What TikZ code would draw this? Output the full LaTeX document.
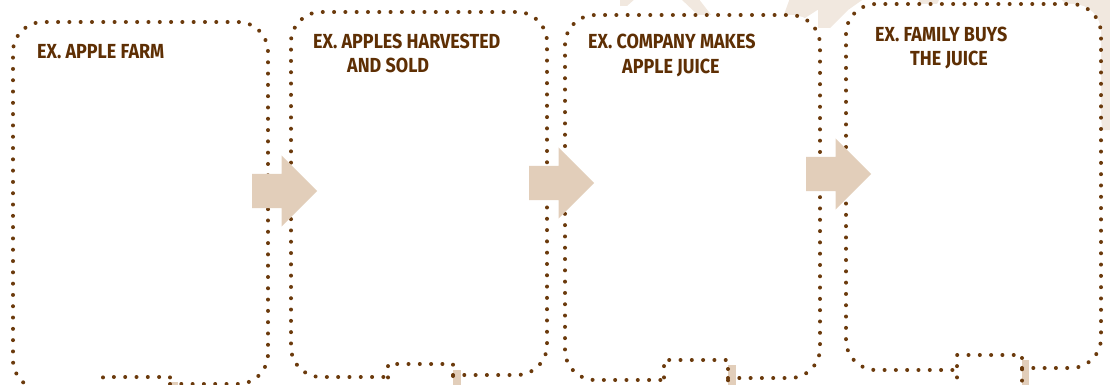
\documentclass[tikz,border=0pt]{standalone}
\usepackage{fontspec}
\newfontfamily\handfont{Fira Sans}
\usetikzlibrary{shapes.arrows}
\definecolor{dotbrown}{HTML}{6B3A0C}
\definecolor{inkbrown}{HTML}{5E2F04}
\definecolor{arrowtan}{HTML}{E2CEBA}
\definecolor{paletan}{HTML}{F1E8DF}
\begin{document}
\begin{tikzpicture}[x=1pt,y=-1pt,
  dotline/.style={draw=dotbrown, line width=4pt, line cap=round, dash pattern=on 0pt off 11.3pt},
  flowarrow/.style={single arrow, fill=arrowtan, draw=none, anchor=tail,
    minimum height=65pt, inner xsep=0pt, inner ysep=17pt,
    single arrow head extend=18.5pt, single arrow tip angle=90},
  caption/.style={anchor=base west, inner sep=0pt, text=inkbrown,
    font=\handfont\bfseries\fontsize{18.5}{18.5}\selectfont}
]
\useasboundingbox (0,0) rectangle (1110,385);

% faint background branches behind the panels
\fill[paletan] (620,-2) -- (636,-2) -- (627,6) -- (620,6) -- cycle;
\fill[paletan] (680,-2) -- (698,-2) -- (712,16) -- (700,17) -- cycle;
\fill[paletan] (790,-2) -- (836,-2) -- (805,18) -- (782,20) -- cycle;
\fill[paletan] (818,-2) -- (865,-2) -- (848,10) -- (830,28) -- (818,28) -- cycle;
\fill[paletan] (918,-2) -- (940,-2) -- (935,8) -- (921,8) -- cycle;
\fill[paletan] (1060,-2) -- (1112,-2) -- (1112,130) -- (1102,130) -- (1095,35) -- cycle;

% panels: left/right/top, left and right bottom, notch left/right/height
\foreach \L/\R/\T/\Bl/\Br/\Nl/\Nr/\Ny in {
   13/268/22/390/384/103/170/377,
  291/547/12/377/375/388/453/364,
  565/820/15/380/378/664/728/360,
  846/1101/4/370/368/957/1022/355}{
  \fill[white, rounded corners=28pt] (\L,\T) rectangle (\R,\Bl);
}
% tan stubs of the downward connectors
\fill[arrowtan] (170,382) rectangle (178,392);
\fill[arrowtan] (453,370) rectangle (461,392);
\fill[arrowtan] (728,365) rectangle (736,392);
\fill[arrowtan] (1022,360) rectangle (1029,392);

\foreach \L/\R/\T/\Bl/\Br/\Nl/\Nr/\Ny in {
   13/268/22/390/384/103/170/377,
  291/547/12/377/375/388/453/364,
  565/820/15/380/378/664/728/360,
  846/1101/4/370/368/957/1022/355}{
  \draw[dotline, rounded corners=30pt] (\Nr,\Br) -- (\R,\Br) -- (\R,\T) -- (\L,\T) -- (\L,\Bl) -- (\Nl,\Bl);
  \draw[dotline] (\Nl,400) -- (\Nl,\Ny) -- (\Nr,\Ny) -- (\Nr,400);
}

% arrows between the panels
\node[flowarrow] (a1) at (252,191) {};
\node[flowarrow] (a2) at (529,183) {};
\node[flowarrow] (a3) at (806,174) {};

% captions
\node[caption] (t1) at (37,59) {\scalebox{0.97}[1.1]{EX. APPLE FARM}};
\node[caption] (t2a) at (313,49) {\scalebox{0.97}[1.1]{EX. APPLES HARVESTED}};
\node[caption] (t2b) at (347,73) {\scalebox{0.97}[1.1]{AND SOLD}};
\node[caption] (t3a) at (588,49) {\scalebox{0.97}[1.1]{EX. COMPANY MAKES}};
\node[caption] (t3b) at (622,74) {\scalebox{0.97}[1.1]{APPLE JUICE}};
\node[caption] (t4a) at (875,42) {\scalebox{0.97}[1.1]{EX. FAMILY BUYS}};
\node[caption] (t4b) at (910,66) {\scalebox{0.97}[1.1]{THE JUICE}};
\end{tikzpicture}
\end{document}
